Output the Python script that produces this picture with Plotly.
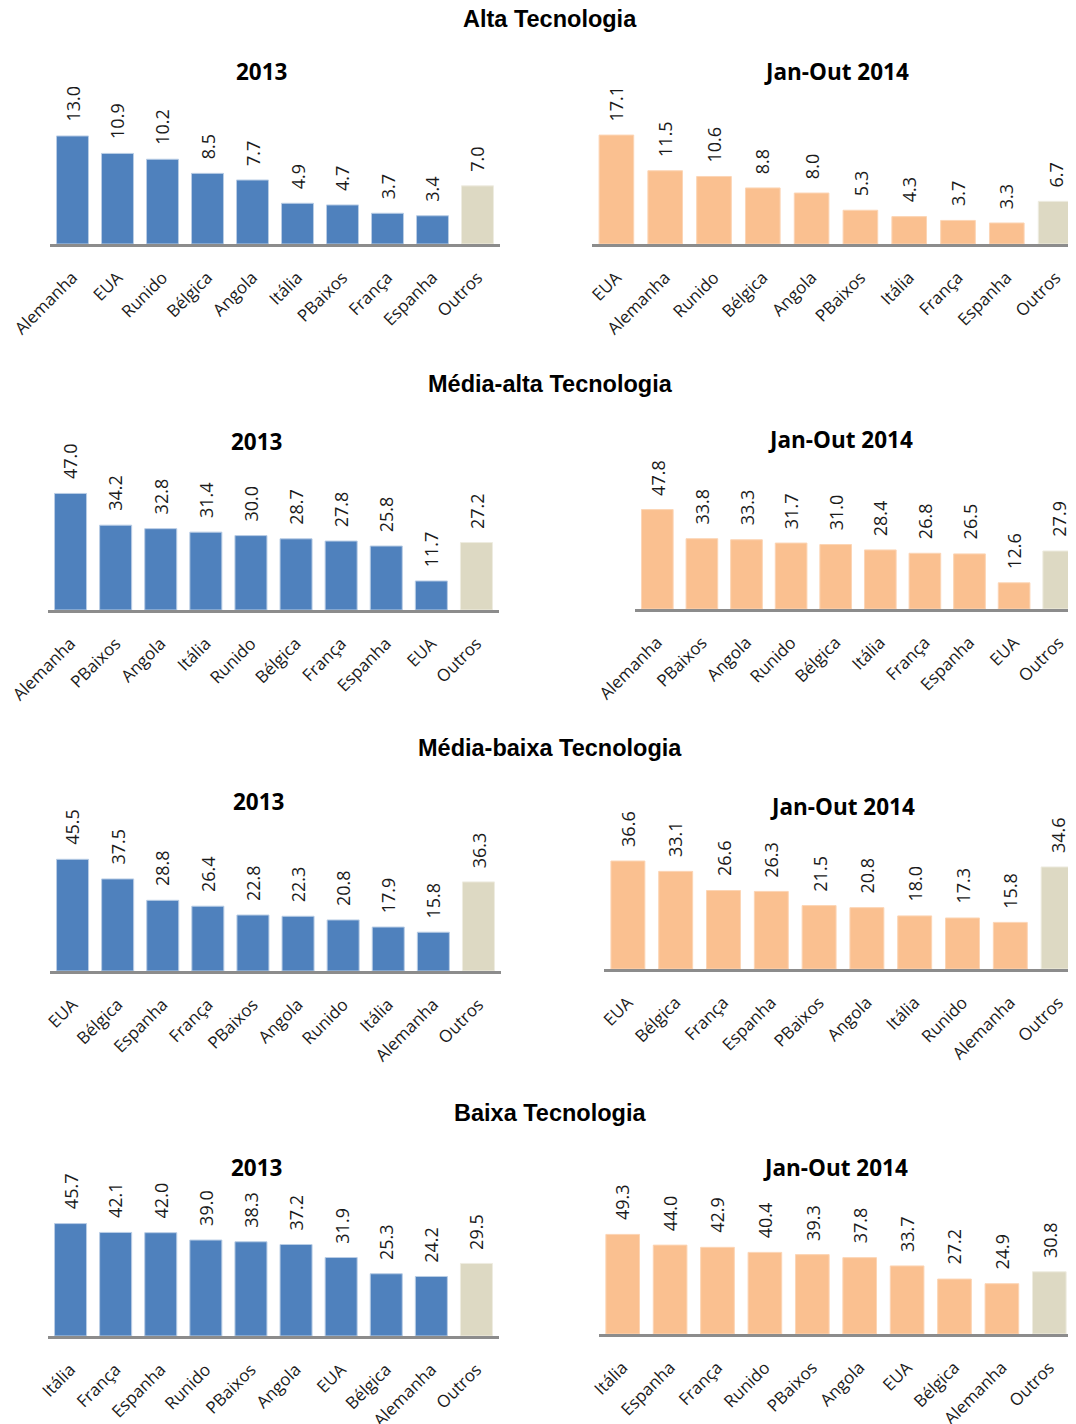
import plotly.graph_objects as go

# ---------------- data ----------------
alta_2013_cats = ["Alemanha", "EUA", "Runido", "Bélgica", "Angola", "Itália", "PBaixos", "França", "Espanha", "Outros"]
alta_2013_vals = [13.0, 10.9, 10.2, 8.5, 7.7, 4.9, 4.7, 3.7, 3.4, 7.0]
alta_2014_cats = ["EUA", "Alemanha", "Runido", "Bélgica", "Angola", "PBaixos", "Itália", "França", "Espanha", "Outros"]
alta_2014_vals = [17.1, 11.5, 10.6, 8.8, 8.0, 5.3, 4.3, 3.7, 3.3, 6.7]

medalta_2013_cats = ["Alemanha", "PBaixos", "Angola", "Itália", "Runido", "Bélgica", "França", "Espanha", "EUA", "Outros"]
medalta_2013_vals = [47.0, 34.2, 32.8, 31.4, 30.0, 28.7, 27.8, 25.8, 11.7, 27.2]
medalta_2014_cats = ["Alemanha", "PBaixos", "Angola", "Runido", "Bélgica", "Itália", "França", "Espanha", "EUA", "Outros"]
medalta_2014_vals = [47.8, 33.8, 33.3, 31.7, 31.0, 28.4, 26.8, 26.5, 12.6, 27.9]

medbaixa_2013_cats = ["EUA", "Bélgica", "Espanha", "França", "PBaixos", "Angola", "Runido", "Itália", "Alemanha", "Outros"]
medbaixa_2013_vals = [45.5, 37.5, 28.8, 26.4, 22.8, 22.3, 20.8, 17.9, 15.8, 36.3]
medbaixa_2014_cats = ["EUA", "Bélgica", "França", "Espanha", "PBaixos", "Angola", "Itália", "Runido", "Alemanha", "Outros"]
medbaixa_2014_vals = [36.6, 33.1, 26.6, 26.3, 21.5, 20.8, 18.0, 17.3, 15.8, 34.6]

baixa_2013_cats = ["Itália", "França", "Espanha", "Runido", "PBaixos", "Angola", "EUA", "Bélgica", "Alemanha", "Outros"]
baixa_2013_vals = [45.7, 42.1, 42.0, 39.0, 38.3, 37.2, 31.9, 25.3, 24.2, 29.5]
baixa_2014_cats = ["Itália", "Espanha", "França", "Runido", "PBaixos", "Angola", "EUA", "Bélgica", "Alemanha", "Outros"]
baixa_2014_vals = [49.3, 44.0, 42.9, 40.4, 39.3, 37.8, 33.7, 27.2, 24.9, 30.8]

section_titles = ["Alta Tecnologia", "Média-alta Tecnologia", "Média-baixa Tecnologia", "Baixa Tecnologia"]
panel_titles = ["2013", "Jan-Out 2014"]

# ---------------- layout geometry (pixels in the target picture) ----------------
W, H = 1076, 1424
OFF = 8  # page body margin


def fx(p):
    return (p - OFF) / W


def fy(p):
    return 1 - (p - OFF) / H


BLUE, BLUE_EDGE = "#4F81BD", "#B9CDE5"
ORANGE, ORANGE_EDGE = "#FAC090", "#FCD5B5"
OTHER, OTHER_EDGE = "#DDD9C3", "#EEECE1"

panels = [
    # cats, vals, is2014, x_left_px, category_width_px, baseline_px, px_per_unit
    (alta_2013_cats, alta_2013_vals, False, 50, 45.0, 244, 8.31),
    (alta_2014_cats, alta_2014_vals, True, 592, 48.8, 244, 6.37),
    (medalta_2013_cats, medalta_2013_vals, False, 48, 45.1, 610, 2.48),
    (medalta_2014_cats, medalta_2014_vals, True, 635, 44.6, 609, 2.08),
    (medbaixa_2013_cats, medbaixa_2013_vals, False, 50, 45.1, 971, 2.455),
    (medbaixa_2014_cats, medbaixa_2014_vals, True, 604, 47.8, 969, 2.95),
    (baixa_2013_cats, baixa_2013_vals, False, 48, 45.1, 1336, 2.46),
    (baixa_2014_cats, baixa_2014_vals, True, 599, 47.4, 1334, 2.02),
]
PLOT_H = 160

section_title_y = [19, 384, 748, 1113]
panel_title_pos = [[(261, 71), (836, 71)], [(256, 441), (840, 439)],
                   [(258, 802), (842, 806)], [(256, 1167), (835, 1167)]]

fig = go.Figure()
annotations = []
layout = {}

FONT = "Open Sans, DejaVu Sans, sans-serif"
label_font = dict(family=FONT, size=17, color="#1a1a1a")

for i, (cats, vals, is2014, xl, cw, base, ppu) in enumerate(panels):
    n = i + 1
    xa = "x" if n == 1 else f"x{n}"
    ya = "y" if n == 1 else f"y{n}"
    main = ORANGE if is2014 else BLUE
    edge = ORANGE_EDGE if is2014 else BLUE_EDGE
    colors = [OTHER if c == "Outros" else main for c in cats]
    edges = [OTHER_EDGE if c == "Outros" else edge for c in cats]
    fig.add_trace(go.Bar(
        x=cats, y=vals, xaxis=xa, yaxis=ya,
        marker=dict(color=colors, line=dict(color=edges, width=1)),
        showlegend=False, hoverinfo="x+y",
    ))
    for c, v in zip(cats, vals):
        annotations.append(dict(
            x=c, y=v, xref=xa, yref=ya, text=f"{v:.1f}", showarrow=False,
            textangle=-90, xanchor="center", yanchor="bottom", yshift=12,
            font=dict(family=FONT, size=18, color="#1a1a1a"),
        ))
    xr = xl + 10 * cw
    xr_fig = min(xr - OFF, W)
    xmax = -0.5 + (xr_fig - (xl - OFF)) / cw
    top = base - PLOT_H
    layout[f"xaxis{'' if n == 1 else n}"] = dict(
        domain=[fx(xl), xr_fig / W], anchor=ya, type="category",
        range=[-0.5, xmax], showgrid=False, zeroline=False,
        showline=True, linecolor="#8C8C8C", linewidth=3,
        ticks="", tickangle=-45, tickfont=label_font, ticklabelstandoff=14,
        automargin=False, fixedrange=True,
    )
    layout[f"yaxis{'' if n == 1 else n}"] = dict(
        domain=[fy(base), fy(top)], anchor=xa,
        range=[0, PLOT_H / ppu], visible=False, showgrid=False, zeroline=False,
        automargin=False, fixedrange=True,
    )

for s, t in enumerate(section_titles):
    annotations.append(dict(
        x=fx(550), y=fy(section_title_y[s]), xref="paper", yref="paper",
        text=f"<b>{t}</b>", showarrow=False, xanchor="center", yanchor="middle",
        font=dict(family="Liberation Sans, Arial, sans-serif", size=23.5, color="#000000"),
    ))
    for p, pt in enumerate(panel_titles):
        px, py = panel_title_pos[s][p]
        annotations.append(dict(
            x=fx(px), y=fy(py), xref="paper", yref="paper",
            text=f"<b>{pt}</b>", showarrow=False, xanchor="center", yanchor="middle",
            font=dict(family=FONT, size=22.5, color="#000000"),
        ))

fig.update_layout(
    template="none",
    width=W, height=H,
    margin=dict(l=0, r=0, t=0, b=0, pad=0),
    paper_bgcolor="white", plot_bgcolor="white",
    bargap=0.29,
    annotations=annotations,
    **layout,
)

fig.write_html("out.html", config={"displayModeBar": False})
